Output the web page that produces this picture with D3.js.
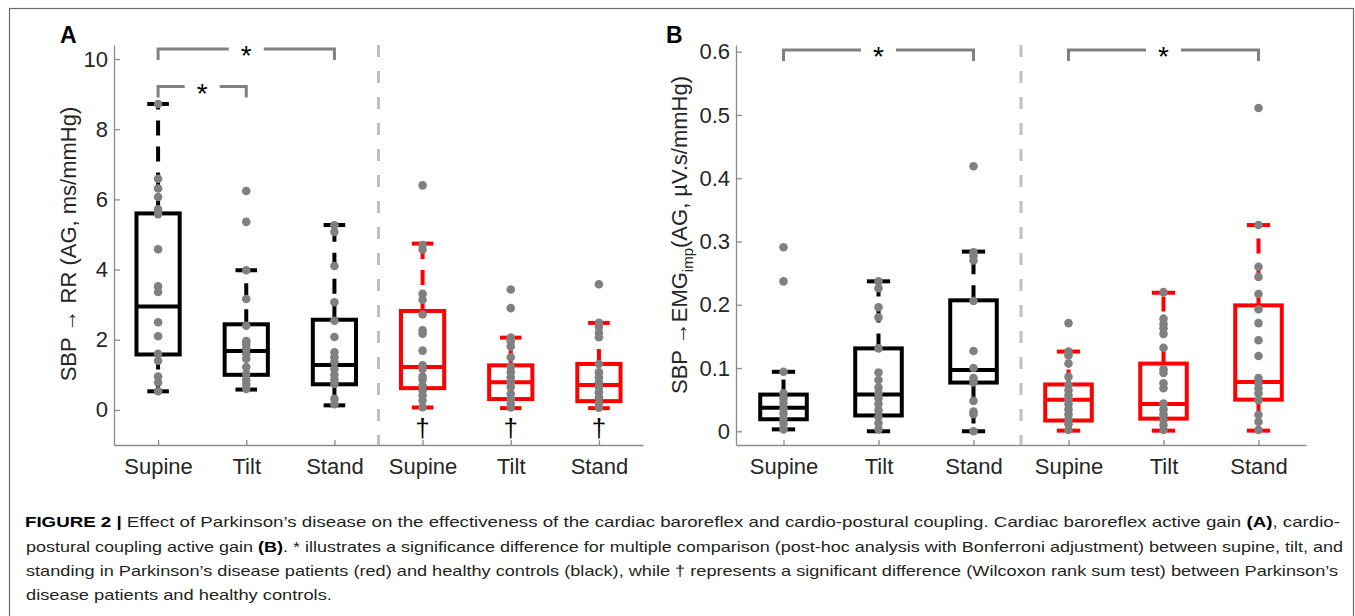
<!DOCTYPE html>
<html>
<head>
<meta charset="utf-8">
<script src="https://cdn.jsdelivr.net/npm/d3@7"></script>
<style>
  body { margin: 0; background: #fff; }
  text { font-family: "Liberation Sans", Arial, Helvetica, sans-serif; }
</style>
</head>
<body>
<svg id="fig" width="1355" height="616"></svg>
<script>
// ---- data ----
const categories = ["Supine", "Tilt", "Stand", "Supine", "Tilt", "Stand"];
const groups = ["HC", "HC", "HC", "PD", "PD", "PD"];

// box stats per category: [lower whisker, q1, median, q3, upper whisker]
const statsA = [
  [0.53, 1.58, 2.95, 5.6, 8.72],
  [0.58, 1.0, 1.68, 2.44, 3.98],
  [0.13, 0.73, 1.28, 2.57, 5.27],
  [0.07, 0.62, 1.22, 2.82, 4.74],
  [0.05, 0.31, 0.79, 1.27, 2.06],
  [0.05, 0.25, 0.71, 1.31, 2.48]
];
const pointsA = [
  [8.72, 6.59, 6.31, 6.07, 5.72, 5.58, 4.58, 3.52, 3.36, 2.5, 2.1, 1.6, 1.4, 0.95, 0.78, 0.53],
  [6.24, 5.36, 3.98, 3.16, 2.4, 1.96, 1.86, 1.74, 1.6, 1.46, 1.22, 1.03, 0.86, 0.74, 0.6],
  [5.26, 5.07, 4.1, 3.07, 2.54, 2.08, 1.64, 1.5, 1.36, 1.17, 1.0, 0.86, 0.74, 0.32, 0.16],
  [6.4, 4.7, 4.57, 3.31, 3.14, 2.72, 2.27, 2.17, 1.69, 1.27, 1.17, 0.95, 0.86, 0.69, 0.55, 0.41, 0.27, 0.08],
  [3.43, 2.9, 2.06, 1.96, 1.81, 1.5, 1.22, 1.08, 0.93, 0.79, 0.65, 0.46, 0.31, 0.19, 0.07],
  [3.58, 2.48, 2.36, 2.2, 2.07, 1.31, 1.07, 0.93, 0.79, 0.65, 0.5, 0.36, 0.19, 0.06]
];
const ticksA = [0, 2, 4, 6, 8, 10];

const statsB = [
  [0.003, 0.019, 0.037, 0.058, 0.094],
  [0.0, 0.025, 0.058, 0.131, 0.237],
  [0.0, 0.077, 0.097, 0.207, 0.284],
  [0.001, 0.017, 0.05, 0.074, 0.126],
  [0.001, 0.02, 0.043, 0.107, 0.219],
  [0.001, 0.05, 0.078, 0.199, 0.326]
];
const pointsB = [
  [0.291, 0.237, 0.094, 0.06, 0.052, 0.045, 0.036, 0.028, 0.02, 0.012, 0.003],
  [0.237, 0.226, 0.196, 0.18, 0.131, 0.093, 0.081, 0.069, 0.06, 0.052, 0.043, 0.033, 0.023, 0.013, 0.003],
  [0.419, 0.283, 0.277, 0.27, 0.206, 0.127, 0.1, 0.084, 0.077, 0.048, 0.031, 0.027, 0.0],
  [0.171, 0.126, 0.12, 0.107, 0.086, 0.073, 0.065, 0.057, 0.05, 0.043, 0.035, 0.027, 0.019, 0.011, 0.002],
  [0.22, 0.178, 0.17, 0.163, 0.154, 0.132, 0.098, 0.092, 0.076, 0.068, 0.044, 0.035, 0.027, 0.018, 0.01, 0.002],
  [0.511, 0.326, 0.26, 0.244, 0.217, 0.193, 0.171, 0.144, 0.119, 0.084, 0.076, 0.068, 0.06, 0.049, 0.026, 0.015, 0.002]
];
const ticksB = [0, 0.1, 0.2, 0.3, 0.4, 0.5, 0.6];

// significance comparisons (category numbers, 1-based)
const compareA = [[1, 3], [1, 2], [4, 6]];
const compareB = [[1, 3], [4, 6]];
const daggerA = [4, 5, 6];

const caption = [
  [["FIGURE 2 | ", true], ["Effect of Parkinson\u2019s disease on the effectiveness of the cardiac baroreflex and cardio-postural coupling. Cardiac baroreflex active gain ", false], ["(A)", true], [", cardio-", false]],
  [["postural coupling active gain ", false], ["(B)", true], [". * illustrates a significance difference for multiple comparison (post-hoc analysis with Bonferroni adjustment) between supine, tilt, and", false]],
  [["standing in Parkinson\u2019s disease patients (red) and healthy controls (black), while \u2020 represents a significant difference (Wilcoxon rank sum test) between Parkinson\u2019s", false]],
  [["disease patients and healthy controls.", false]]
];

// ---- drawing ----
const colorOf = { HC: "#000000", PD: "#ff0000" };
const svg = d3.select("#fig");

svg.append("rect")
  .attr("x", 9.5).attr("y", 8.5)
  .attr("width", 1344).attr("height", 640)
  .attr("fill", "none")
  .attr("stroke", "#6b6b6b")
  .attr("stroke-width", 1.2);

function drawPanel(cfg) {
  const g = svg.append("g");
  const x = d3.scaleLinear().domain([0.5, 6.5]).range(cfg.xRange);
  const y = d3.scaleLinear().domain(cfg.yDomain).range([445, 45]);
  const step = x(2) - x(1);
  const bw = step * 0.49;
  const cw = step * 0.245;

  // axes
  const yAxis = g.append("g")
    .attr("transform", `translate(${cfg.xRange[0]},0)`)
    .call(d3.axisLeft(y).tickValues(cfg.ticks).tickFormat(cfg.fmt).tickSize(-6).tickSizeOuter(0).tickPadding(6));
  const xAxis = g.append("g")
    .attr("transform", `translate(0,445)`)
    .call(d3.axisBottom(x).tickValues([1, 2, 3, 4, 5, 6]).tickFormat(i => categories[i - 1]).tickSize(-5).tickSizeOuter(0).tickPadding(13));
  [yAxis, xAxis].forEach(a => {
    a.attr("font-size", 22).attr("font-family", null);
    a.selectAll("text").attr("fill", "#262626");
    a.select(".domain").attr("stroke", "#8c8c8c").attr("stroke-width", 1.3);
    a.selectAll(".tick line").attr("stroke", "#8c8c8c").attr("stroke-width", 1.3);
  });

  // separator between healthy controls and patients
  g.append("line")
    .attr("x1", x(3.5)).attr("x2", x(3.5))
    .attr("y1", 45).attr("y2", 445)
    .attr("stroke", "#c0c0c0")
    .attr("stroke-width", 3)
    .attr("stroke-dasharray", "12,14");

  // boxes
  const boxes = g.selectAll("g.box")
    .data(cfg.stats)
    .join("g")
    .attr("class", "box")
    .attr("stroke", (d, i) => colorOf[groups[i]])
    .attr("stroke-width", 4)
    .attr("fill", "none");

  boxes.append("line") // upper whisker
    .attr("x1", (d, i) => x(i + 1)).attr("x2", (d, i) => x(i + 1))
    .attr("y1", d => y(d[3])).attr("y2", d => y(d[4]))
    .attr("stroke-dasharray", "15,11");
  boxes.append("line") // lower whisker
    .attr("x1", (d, i) => x(i + 1)).attr("x2", (d, i) => x(i + 1))
    .attr("y1", d => y(d[1])).attr("y2", d => y(d[0]))
    .attr("stroke-dasharray", "15,11");
  boxes.append("line")
    .attr("x1", (d, i) => x(i + 1) - cw / 2).attr("x2", (d, i) => x(i + 1) + cw / 2)
    .attr("y1", d => y(d[4])).attr("y2", d => y(d[4]));
  boxes.append("line")
    .attr("x1", (d, i) => x(i + 1) - cw / 2).attr("x2", (d, i) => x(i + 1) + cw / 2)
    .attr("y1", d => y(d[0])).attr("y2", d => y(d[0]));
  boxes.append("rect")
    .attr("x", (d, i) => x(i + 1) - bw / 2)
    .attr("y", d => y(d[3]))
    .attr("width", bw)
    .attr("height", d => y(d[1]) - y(d[3]));
  boxes.append("line")
    .attr("x1", (d, i) => x(i + 1) - bw / 2).attr("x2", (d, i) => x(i + 1) + bw / 2)
    .attr("y1", d => y(d[2])).attr("y2", d => y(d[2]));

  // individual points
  const flat = cfg.points.flatMap((arr, i) => arr.map(v => ({ cat: i + 1, v })));
  g.append("g").selectAll("circle")
    .data(flat)
    .join("circle")
    .attr("cx", d => x(d.cat))
    .attr("cy", d => y(d.v))
    .attr("r", 4.3)
    .attr("fill", "#808080");

  // significance brackets
  cfg.compare.forEach(([a, b], k) => {
    const top = cfg.bracketY[k];
    const bot = top + 11;
    const mid = (x(a) + x(b)) / 2;
    const gap = 17.5;
    g.append("path")
      .attr("d", `M${x(a)},${bot}V${top}H${mid - gap}M${mid + gap},${top}H${x(b)}V${bot}`)
      .attr("fill", "none")
      .attr("stroke", "#808080")
      .attr("stroke-width", 3);
    g.append("text")
      .attr("x", mid).attr("y", top + 16)
      .attr("text-anchor", "middle")
      .attr("font-size", 28)
      .attr("fill", "#000")
      .text("*");
  });

  (cfg.daggers || []).forEach(c => {
    g.append("text")
      .attr("x", x(c)).attr("y", 437)
      .attr("text-anchor", "middle")
      .attr("font-size", 26)
      .attr("fill", "#000")
      .text("\u2020");
  });

  // panel letter
  g.append("text")
    .attr("x", cfg.letterX).attr("y", 43)
    .attr("font-size", 23)
    .attr("font-weight", "bold")
    .text(cfg.letter);

  return g;
}

const gA = drawPanel({
  xRange: [114, 643], yDomain: [-1, 10.4], ticks: ticksA, fmt: d3.format("d"),
  stats: statsA, points: pointsA, compare: compareA, bracketY: [49, 86.5],
  daggers: daggerA, letter: "A", letterX: 60
});
gA.append("text")
  .attr("transform", "translate(76,244) rotate(-90)")
  .attr("text-anchor", "middle")
  .attr("font-size", 22)
  .attr("fill", "#262626")
  .text("SBP \u2192 RR (AG, ms/mmHg)");

const gB = drawPanel({
  xRange: [736, 1306], yDomain: [-0.0217, 0.6106], ticks: ticksB, fmt: d => d === 0 ? "0" : d.toFixed(1),
  stats: statsB, points: pointsB, compare: compareB, bracketY: [50, 50],
  letter: "B", letterX: 666
});
const labB = gB.append("text")
  .attr("transform", "translate(687,235) rotate(-90)")
  .attr("text-anchor", "middle")
  .attr("font-size", 22)
  .attr("fill", "#262626");
labB.append("tspan").text("SBP \u2192EMG");
labB.append("tspan").attr("dy", 6).attr("font-size", 15).text("imp");
labB.append("tspan").attr("dy", -6).text("(AG, \u00b5V.s/mmHg)");

// caption; the long lines are stretched to the width they have in the figure
const lineStart = [25, 26, 26, 26];
const lineEnd = [1340, 1343, 1338, null];
const lineBase = [527, 551.5, 575.5, 599.5];
const lines = caption.map((parts, i) => {
  const t = svg.append("text")
    .attr("x", lineStart[i]).attr("y", lineBase[i])
    .attr("font-size", 15)
    .attr("fill", "#231f20");
  parts.forEach(([s, b]) => {
    t.append("tspan")
      .attr("font-weight", b ? "bold" : null)
      .attr("fill", b ? "#000" : null)
      .text(s);
  });
  return t;
});
const ks = [];
lines.forEach((t, i) => {
  const w = t.node().getComputedTextLength();
  if (lineEnd[i] !== null) ks.push((lineEnd[i] - lineStart[i]) / w);
  const k = lineEnd[i] !== null ? (lineEnd[i] - lineStart[i]) / w : d3.mean(ks);
  t.attr("textLength", w * k).attr("lengthAdjust", "spacingAndGlyphs");
});
</script>
</body>
</html>
